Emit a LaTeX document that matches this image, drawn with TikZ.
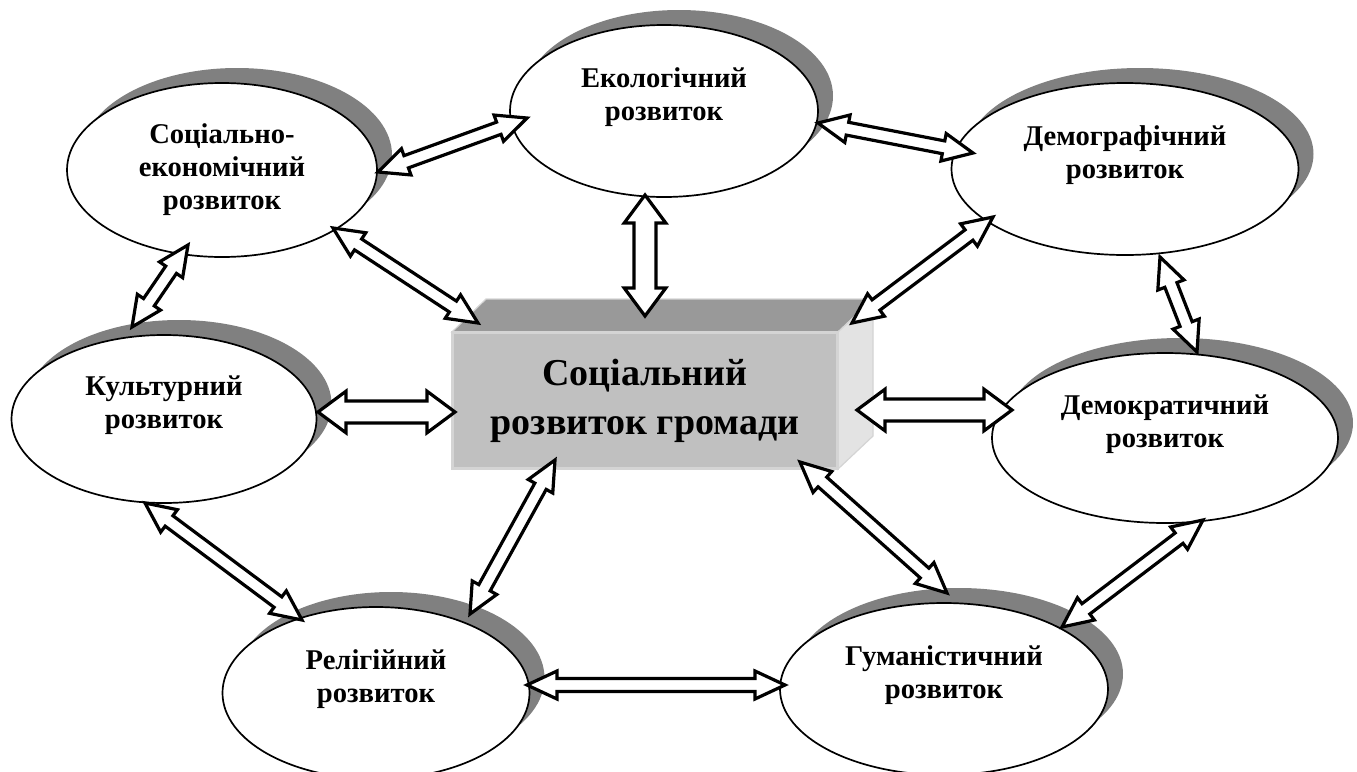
\documentclass[tikz,border=0pt]{standalone}
\usepackage{fontspec}
\setmainfont{Liberation Serif}
\usetikzlibrary{shapes.geometric,calc}

\definecolor{shadowgray}{HTML}{808080}
\definecolor{boxfront}{HTML}{C0C0C0}
\definecolor{boxtop}{HTML}{999999}
\definecolor{boxside}{HTML}{E3E3E3}
\definecolor{boxedge}{HTML}{D4D4D4}

\tikzset{
  % outlined double block arrow drawn between two points
  dbl head/.store in=\dblHead,
  dbl wing/.store in=\dblWing,
  dbl shaft/.store in=\dblShaft,
  dbl head=15pt, dbl wing=7pt, dbl shaft=3.25pt,
  dbl/.style={draw=black, fill=white, line width=1.6pt, line join=miter,
    to path={let \p1=(\tikztostart), \p2=(\tikztotarget),
      \n1={atan2(\y2-\y1,\x2-\x1)} in
      (\p1)
      -- ($(\p1)+(\n1:\dblHead)+(\n1+90:\dblWing)$)
      -- ($(\p1)+(\n1:\dblHead)+(\n1+90:\dblShaft)$)
      -- ($(\p2)+(\n1+180:\dblHead)+(\n1+90:\dblShaft)$)
      -- ($(\p2)+(\n1+180:\dblHead)+(\n1+90:\dblWing)$)
      -- (\p2)
      -- ($(\p2)+(\n1+180:\dblHead)+(\n1-90:\dblWing)$)
      -- ($(\p2)+(\n1+180:\dblHead)+(\n1-90:\dblShaft)$)
      -- ($(\p1)+(\n1:\dblHead)+(\n1-90:\dblShaft)$)
      -- ($(\p1)+(\n1:\dblHead)+(\n1-90:\dblWing)$)
      -- cycle}},
  dblwide/.style={dbl, dbl head=14pt, dbl wing=10.4pt, dbl shaft=5.5pt},
  % white ellipse with a solid grey copy offset to the upper right
  bubble/.style={ellipse, draw=black, line width=0.85pt, fill=white,
    inner sep=0pt, align=center,
    font=\fontsize{14.3}{16.5}\selectfont\bfseries,
    preaction={fill=shadowgray, draw=none,
      transform canvas={shift={(7.5pt,7.5pt)}}}},
  cubefront/.style={rectangle, fill=boxfront, draw=boxedge, line width=1pt,
    inner sep=0pt, align=center,
    font=\fontsize{19}{24.5}\selectfont\bfseries}
}

\begin{document}
\begin{tikzpicture}[x=0.5pt,y=-0.5pt]
\fill[white] (0,0) rectangle (1357,772);
\useasboundingbox (0,0) rectangle (1357,772);

% outer ring of development areas
\node[bubble, minimum width=155pt, minimum height=87pt] (soc) at (222,170)
  {Соціально-\\економічний\\розвиток};
\node[bubble, minimum width=154pt, minimum height=86pt] (eco) at (664,111)
  {Екологічний\\розвиток\\\mbox{}};
\node[bubble, minimum width=173.5pt, minimum height=86pt] (dmg) at (1125,169)
  {Демографічний\\розвиток\\\mbox{}};
\node[bubble, minimum width=152.5pt, minimum height=84pt] (cul) at (164,419)
  {Культурний\\розвиток\\\mbox{}};
\node[bubble, minimum width=173pt, minimum height=85pt] (dmc) at (1165,438)
  {Демократичний\\розвиток\\\mbox{}};
\node[bubble, minimum width=153.5pt, minimum height=86pt] (rel) at (376,693)
  {Релігійний\\розвиток\\\mbox{}};
\node[bubble, minimum width=164pt, minimum height=86pt] (hum) at (944,689)
  {Гуманістичний\\розвиток\\\mbox{}};

% central block with its top and side faces
\node[cubefront, minimum width=192pt, minimum height=67.5pt] (box) at (645,400.5)
  {Соціальний\\розвиток громади};
\filldraw[fill=boxtop, draw=boxedge, line width=0.6pt]
  (box.north west) -- ++(34,-33) -- ($(box.north east)+(35,-33)$)
  -- (box.north east) -- cycle;
\filldraw[fill=boxside, draw=boxedge, line width=0.6pt]
  (box.north east) -- ++(35,-33) -- ($(box.south east)+(35,-33)$)
  -- (box.south east) -- cycle;
\draw[boxedge, line width=1pt] (box.north west) rectangle (box.south east);

% links between the areas
\draw[dbl] ($(soc)+(156,2)$) to ($(eco)+(-137,7)$);
\draw[dbl] ($(eco)+(154,12)$) to ($(dmg)+(-152,-16)$);
\draw[dblwide] ($(eco)+(-19,84)$) to ($(box)+(0,-84.5)$);
\draw[dbl] ($(soc)+(111,58)$) to ($(box)+(-167,-77.5)$);
\draw[dbl] ($(dmg)+(-132,48)$) to ($(box)+(207,-77.5)$);
\draw[dbl] ($(soc)+(-34,75)$) to ($(cul)+(-32,-92)$);
\draw[dbl] ($(dmg)+(35,88)$) to ($(dmc)+(32,-86)$);
\draw[dblwide] ($(cul)+(154,-7)$) to ($(box)+(-190,11.5)$);
\draw[dblwide] ($(box)+(212,9.5)$) to ($(dmc)+(-153,-28)$);
\draw[dbl] ($(cul)+(-19,84)$) to ($(rel)+(-74,-73)$);
\draw[dbl] ($(box)+(-90,59.5)$) to ($(rel)+(94,-79)$);
\draw[dbl] ($(box)+(155,61.5)$) to ($(hum)+(3,-96)$);
\draw[dbl] ($(dmc)+(38,82)$) to ($(hum)+(118,-62)$);
\draw[dbl] ($(rel)+(151,-8)$) to ($(hum)+(-159,-4)$);
\end{tikzpicture}
\end{document}
